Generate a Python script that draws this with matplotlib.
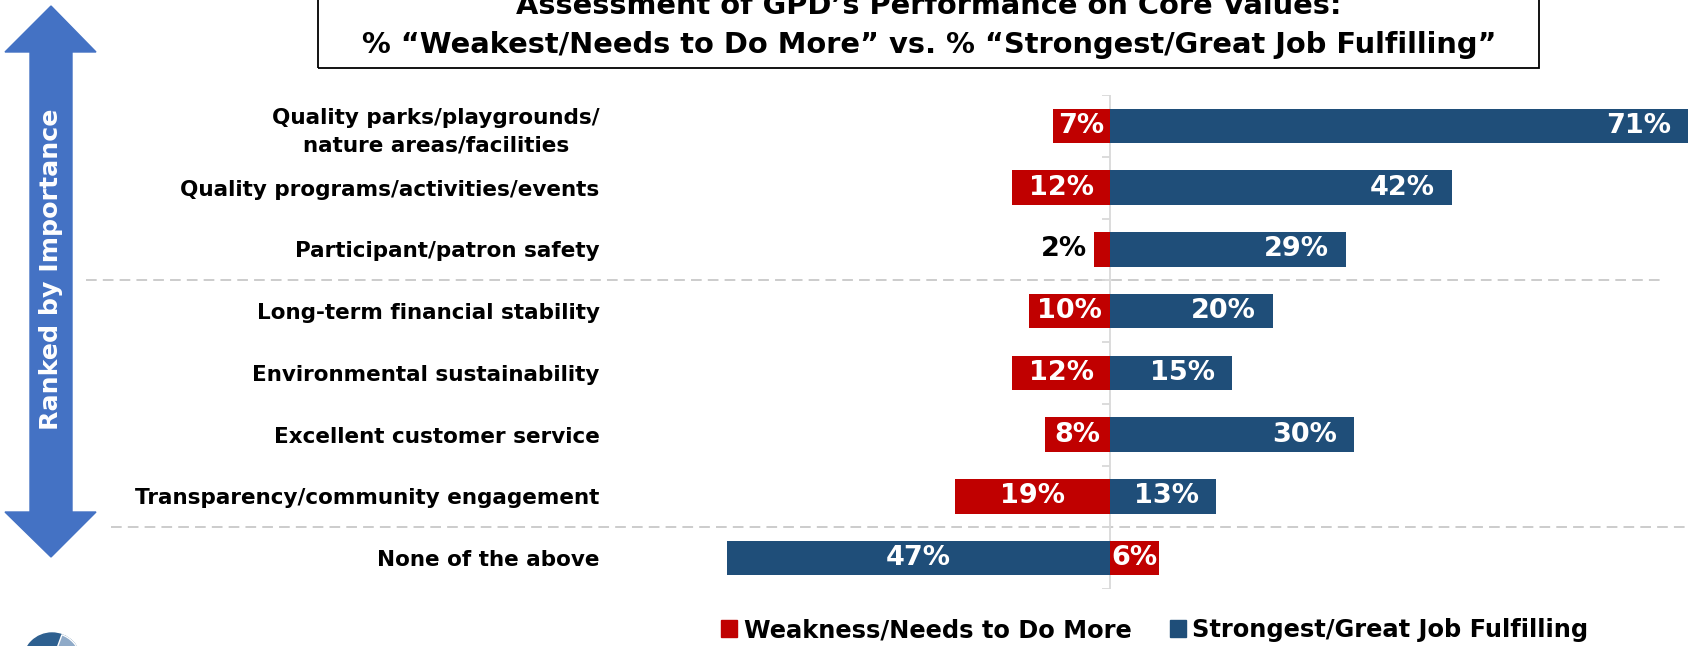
import matplotlib
matplotlib.use("Agg")
import matplotlib.pyplot as plt
from matplotlib.patches import Polygon, Rectangle, Circle, Wedge, Patch
from matplotlib.transforms import IdentityTransform
import numpy as np

# Data
categories = [
    "Quality parks/playgrounds/\nnature areas/facilities",
    "Quality programs/activities/events",
    "Participant/patron safety",
    "Long-term financial stability",
    "Environmental sustainability",
    "Excellent customer service",
    "Transparency/community engagement",
    "None of the above",
]
weakness = [7, 12, 2, 10, 12, 8, 19, 6]
strongest = [71, 42, 29, 20, 15, 30, 13, 47]
# last row is drawn with the sides swapped in the original
swapped = [False, False, False, False, False, False, False, True]
series_names = ["Weakness/Needs to Do More", "Strongest/Great Job Fulfilling"]
title_lines = ["Assessment of GPD\u2019s Performance on Core Values:",
               "% \u201cWeakest/Needs to Do More\u201d vs. % \u201cStrongest/Great Job Fulfilling\u201d"]
side_label = "Ranked by Importance"

RED = "#C00000"
BLUE = "#1F4E79"
ARROW = "#4472C4"
GRID = "#D9D9D9"

plt.rcParams["font.family"] = "DejaVu Sans"
plt.rcParams["font.weight"] = "bold"

W, H = 1702, 646
fig = plt.figure(figsize=(W / 100, H / 100), dpi=100)


def fx(px):
    return px / W


def fy(py):
    return 1 - py / H


# chart axes: zero at x=1110px, 8.14 px per percent
x0, ppp = 1110, 8.14
ax = fig.add_axes([fx(606), fy(589), fx(1700) - fx(606), fy(95) - fy(589)])
ax.set_xlim((606 - x0) / ppp, (1700 - x0) / ppp)
ax.set_ylim(len(categories) - 0.5, -0.5)

y = np.arange(len(categories))
w = np.array(weakness)
s = np.array(strongest)
sw = np.array(swapped)
red_x = np.where(sw, w, -w)
blue_x = np.where(sw, -s, s)

ax.barh(y, red_x, height=0.56, color=RED, zorder=3)
ax.barh(y, blue_x, height=0.56, color=BLUE, zorder=3)

lab_size = 19.5
for i in range(len(categories)):
    # red labels
    if w[i] <= 3:
        ax.text(red_x[i] - 0.8, y[i], f"{w[i]}%", ha="right", va="center",
                color="black", fontsize=lab_size, zorder=4)
    else:
        ax.text(red_x[i] / 2, y[i], f"{w[i]}%", ha="center", va="center",
                color="white", fontsize=lab_size, zorder=4)
    # blue labels
    if sw[i]:
        ax.text(blue_x[i] / 2, y[i], f"{s[i]}%", ha="center", va="center",
                color="white", fontsize=lab_size, zorder=4)
    else:
        ax.text(blue_x[i] - 2.1, y[i], f"{s[i]}%", ha="right", va="center",
                color="white", fontsize=lab_size, zorder=4)

# zero line with small boundary ticks
ax.axvline(0, color=GRID, lw=1.3, zorder=2)
ax.hlines(np.arange(-0.5, len(categories)), -1.0, 0, color=GRID, lw=1.3, zorder=2)

# dashed separators
ax.plot([(86 - x0) / ppp, (1664 - x0) / ppp], [2.5, 2.5], color="#BFBFBF",
        lw=1.1, linestyle=(0, (7, 4)), clip_on=False, zorder=1)
ax.plot([(111 - x0) / ppp, (1688 - x0) / ppp], [6.5, 6.5], color="#BFBFBF",
        lw=1.1, linestyle=(0, (7, 4)), clip_on=False, zorder=1)

ax.set_yticks(y, categories)
ax.tick_params(axis="y", length=0, pad=4.5, labelsize=15.5)
for t in ax.get_yticklabels():
    t.set_multialignment("center")
    t.set_linespacing(1.45)
ax.set_xticks([])
for sp in ax.spines.values():
    sp.set_visible(False)

# legend
handles = [Patch(color=RED), Patch(color=BLUE)]
fig.legend(handles, series_names, loc="center", bbox_to_anchor=(fx(1155), fy(630)),
           ncol=2, frameon=False, prop={"weight": "bold", "size": 17.4},
           handlelength=0.65, handleheight=0.65, handletextpad=0.27, columnspacing=1.6)

# title box
fig.patches.append(Rectangle((fx(318), fy(68)), fx(1539) - fx(318), 0.3,
                             transform=fig.transFigure, fill=False,
                             edgecolor="black", lw=1.3))
fig.text(fx(929), fy(6), title_lines[0], ha="center", va="center", fontsize=20.8)
fig.text(fx(929), fy(45), title_lines[1], ha="center", va="center", fontsize=20.8)

# double arrow on the left
pts = [(51, 6), (96, 52), (72, 52), (72, 512), (96, 512), (51, 557),
       (5, 512), (30, 512), (30, 52), (5, 52)]
fig.patches.append(Polygon([(fx(a), fy(b)) for a, b in pts], closed=True,
                           transform=fig.transFigure, color=ARROW))
fig.text(fx(51), fy(269), side_label, rotation=90, color="white",
         fontsize=18.2, ha="center", va="center")

# logo stub in the corner (pixel coordinates, origin bottom-left)
fig.patches.append(Circle((52, H - 662), 29, transform=IdentityTransform(),
                          color="#2E6090"))
fig.patches.append(Wedge((52, H - 662), 29, 15, 70, transform=IdentityTransform(),
                         facecolor="#8FAAC8", edgecolor="white", lw=1))

fig.savefig("out.png", dpi=100)
